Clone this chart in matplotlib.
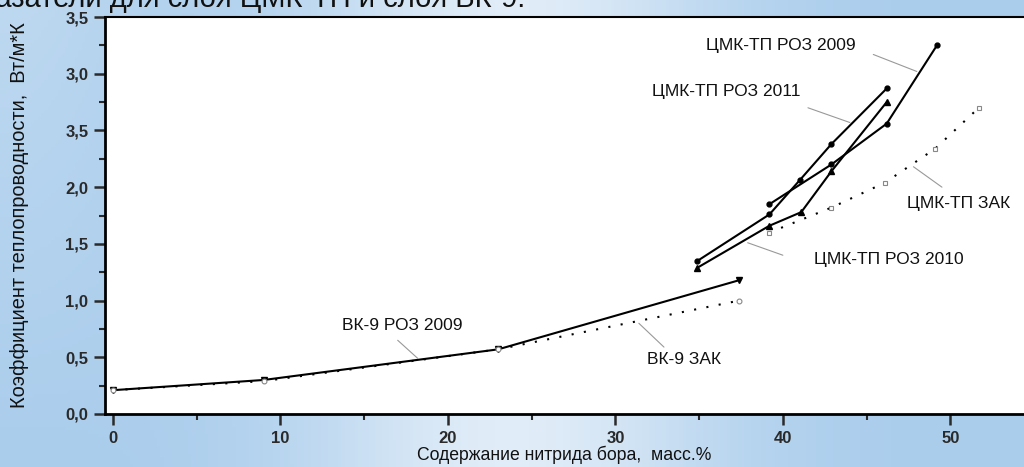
import numpy as np
import matplotlib.pyplot as plt
from matplotlib.ticker import FixedLocator, FixedFormatter, MultipleLocator

plt.rcParams['font.family'] = ['Liberation Sans', 'DejaVu Sans']

# ВК-9
vk_x = [0, 9, 23, 37.4]
vk_roz2009 = [0.21, 0.30, 0.57, 1.18]
vk_zak = [0.21, 0.29, 0.57, 1.00]

# ЦМК-ТП
cmk2009_x = [39.2, 42.9, 46.2, 49.2]
cmk2009_y = [1.85, 2.20, 2.56, 3.25]
cmk2011_x = [34.9, 39.2, 41.0, 42.9, 46.2]
cmk2011_y = [1.35, 1.76, 2.06, 2.38, 2.87]
cmk2010_x = [34.9, 39.2, 41.1, 42.9, 46.2]
cmk2010_y = [1.29, 1.66, 1.78, 2.14, 2.75]
cmkzak_x = [39.2, 42.9, 46.1, 49.1, 51.7]
cmkzak_y = [1.60, 1.82, 2.04, 2.34, 2.70]

yticks = [0, 0.5, 1.0, 1.5, 2.0, 2.5, 3.0, 3.5]
ytick_labels = ["0,0", "0,5", "1,0", "1,5", "2,0", "3,5", "3,0", "3,5"]
xticks = [0, 10, 20, 30, 40, 50]

fig = plt.figure(figsize=(10.24, 4.67), dpi=100)

# background gradient
bg = fig.add_axes([0, 0, 1, 1], zorder=0)
xs = np.linspace(0, 1, 300)
ys = np.linspace(0, 1, 140)
X, Y = np.meshgrid(xs, ys)
light = np.exp(-((X - 0.5) / 0.2) ** 2) * 0.85 + 0.3 * np.exp(-(X / 0.15) ** 2) * (1 - Y)
light = np.clip(light, 0, 1)
c_dark = np.array([170, 205, 236]) / 255
c_light = np.array([234, 242, 250]) / 255
img = c_dark[None, None, :] + (c_light - c_dark)[None, None, :] * light[:, :, None]
bg.imshow(img, aspect='auto', extent=[0, 1, 0, 1], origin='upper')
bg.axis('off')

# title of the slide, mostly cut off at the top
fig.text(0.513, 1 - 7 / 467, "показатели для слоя ЦМК-ТП и слоя ВК-9.", ha='right', va='baseline',
         fontsize=21, color='#111111')

ax = fig.add_axes([0.1025, 0.1135, 0.8975, 0.85], zorder=1)
ax.set_facecolor('white')

ax.plot(vk_x, vk_roz2009, color='black', lw=1.5, marker='v', ms=4)
ax.plot(vk_x, vk_zak, color='black', lw=1.5, linestyle=(0, (1, 5)), marker='o', ms=3.5,
        mfc='white', mec='#888888', mew=0.8)

ax.plot(cmk2009_x, cmk2009_y, color='black', lw=1.5, marker='o', ms=3.5)
ax.plot(cmk2011_x, cmk2011_y, color='black', lw=1.5, marker='o', ms=3.5)
ax.plot(cmk2010_x, cmk2010_y, color='black', lw=1.5, marker='^', ms=4)
ax.plot(cmkzak_x, cmkzak_y, color='black', lw=1.5, linestyle=(0, (1, 5)), marker='s', ms=3.5,
        mfc='white', mec='#888888', mew=0.8)

lbl = dict(fontsize=12.5, ha='center', va='center', color='#111111')
ax.text(39.9, 3.25, "ЦМК-ТП РОЗ 2009", **lbl)
ax.text(36.6, 2.84, "ЦМК-ТП РОЗ 2011", **lbl)
ax.text(50.5, 1.86, "ЦМК-ТП ЗАК", **lbl)
ax.text(46.3, 1.36, "ЦМК-ТП РОЗ 2010", **lbl)
ax.text(17.3, 0.78, "ВК-9 РОЗ 2009", **lbl)
ax.text(34.1, 0.48, "ВК-9 ЗАК", **lbl)

lead = dict(arrowstyle='-', color='#999999', lw=0.8, shrinkA=0, shrinkB=0)
ax.annotate('', xy=(48.0, 3.02), xytext=(45.4, 3.17), arrowprops=lead)
ax.annotate('', xy=(44.0, 2.57), xytext=(41.5, 2.70), arrowprops=lead)
ax.annotate('', xy=(49.5, 2.00), xytext=(47.8, 2.18), arrowprops=lead)
ax.annotate('', xy=(40.0, 1.40), xytext=(37.9, 1.51), arrowprops=lead)
ax.annotate('', xy=(18.2, 0.49), xytext=(17.0, 0.65), arrowprops=lead)
ax.annotate('', xy=(32.9, 0.59), xytext=(31.4, 0.80), arrowprops=lead)

ax.set_xlim(-0.48, 54.4)
ax.set_ylim(0, 3.5)

ax.yaxis.set_major_locator(FixedLocator(yticks))
ax.yaxis.set_major_formatter(FixedFormatter(ytick_labels))
ax.yaxis.set_minor_locator(MultipleLocator(0.25))
ax.xaxis.set_major_locator(FixedLocator(xticks))
ax.xaxis.set_minor_locator(MultipleLocator(5))

ax.tick_params(axis='both', which='major', direction='out', length=8, width=1.8,
               labelsize=12, colors='#2a2a2a', pad=4)
ax.tick_params(axis='both', which='minor', direction='out', length=4, width=1.5, colors='#2a2a2a')
for t in ax.get_xticklabels() + ax.get_yticklabels():
    t.set_fontweight('bold')

ax.spines['left'].set_linewidth(2)
ax.spines['bottom'].set_linewidth(2)
ax.spines['top'].set_linewidth(1.5)
ax.spines['right'].set_visible(False)

ax.set_xlabel("Содержание нитрида бора,  масс.%", fontsize=12.7, color='#111111', labelpad=0)
ax.set_ylabel("Коэффициент теплопроводности,  Вт/м*К", fontsize=14.4, color='#111111', labelpad=26)

plt.savefig("out.png", dpi=100)
